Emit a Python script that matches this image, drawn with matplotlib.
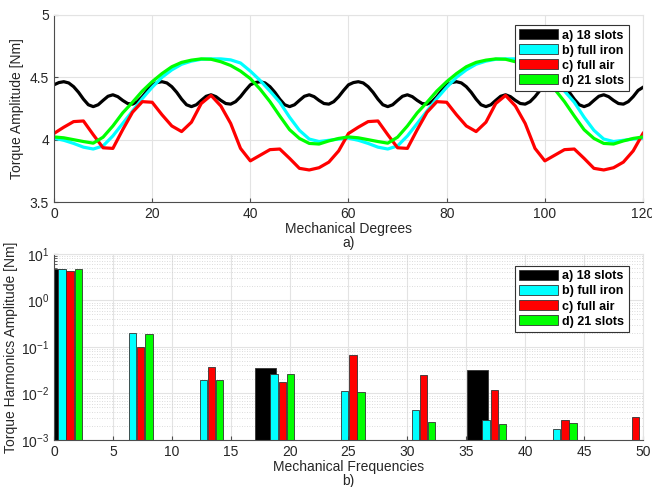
import numpy as np
import matplotlib
matplotlib.use("Agg")
import matplotlib.pyplot as plt
from matplotlib.patches import Patch
from matplotlib.ticker import FormatStrFormatter, LogLocator, NullFormatter

plt.rcParams['font.family'] = ['Liberation Sans', 'DejaVu Sans']
plt.rcParams['mathtext.fontset'] = 'custom'
plt.rcParams['mathtext.rm'] = 'Liberation Sans'

# torque vs rotor position; the 18-slot ripple is sampled every degree,
# the other machines every 2 mechanical degrees
degrees_fine = np.arange(0, 121, 1)
degrees = np.arange(0, 121, 2)

torque_18slots = [
  4.44, 4.458, 4.465, 4.455, 4.425, 4.38, 4.325, 4.28, 4.265, 4.28,
  4.315, 4.348, 4.36, 4.345, 4.315, 4.29, 4.285, 4.305, 4.345, 4.395,
  4.44, 4.458, 4.465, 4.455, 4.425, 4.38, 4.325, 4.28, 4.265, 4.28,
  4.315, 4.348, 4.36, 4.345, 4.315, 4.29, 4.285, 4.305, 4.345, 4.395,
  4.44, 4.458, 4.465, 4.455, 4.425, 4.38, 4.325, 4.28, 4.265, 4.28,
  4.315, 4.348, 4.36, 4.345, 4.315, 4.29, 4.285, 4.305, 4.345, 4.395,
  4.44, 4.458, 4.465, 4.455, 4.425, 4.38, 4.325, 4.28, 4.265, 4.28,
  4.315, 4.348, 4.36, 4.345, 4.315, 4.29, 4.285, 4.305, 4.345, 4.395,
  4.44, 4.458, 4.465, 4.455, 4.425, 4.38, 4.325, 4.28, 4.265, 4.28,
  4.315, 4.348, 4.36, 4.345, 4.315, 4.29, 4.285, 4.305, 4.345, 4.395,
  4.44, 4.458, 4.465, 4.455, 4.425, 4.38, 4.325, 4.28, 4.265, 4.28,
  4.315, 4.348, 4.36, 4.345, 4.315, 4.29, 4.285, 4.305, 4.345, 4.395,
  4.42]

torque_iron = [
  4.012, 3.995, 3.97, 3.94, 3.925, 3.95, 4.03, 4.13, 4.23, 4.33,
  4.42, 4.50, 4.56, 4.605, 4.63, 4.645, 4.648, 4.648, 4.64, 4.615,
  4.55, 4.475, 4.39, 4.30, 4.18, 4.075, 4.005, 3.985, 3.995, 4.005,
  4.012, 3.995, 3.97, 3.94, 3.925, 3.95, 4.03, 4.13, 4.23, 4.33,
  4.42, 4.50, 4.56, 4.605, 4.63, 4.645, 4.648, 4.648, 4.64, 4.615,
  4.55, 4.475, 4.39, 4.30, 4.18, 4.075, 4.005, 3.985, 3.995, 4.005,
  4.012]

torque_air = [
  4.05, 4.10, 4.145, 4.15, 4.04, 3.935, 3.93, 4.08, 4.22, 4.305,
  4.30, 4.20, 4.11, 4.065, 4.14, 4.29, 4.355, 4.27, 4.13, 3.93,
  3.83, 3.875, 3.92, 3.925, 3.85, 3.77, 3.757, 3.775, 3.82, 3.91,
  4.05, 4.10, 4.145, 4.15, 4.04, 3.935, 3.93, 4.08, 4.22, 4.305,
  4.30, 4.20, 4.11, 4.065, 4.14, 4.29, 4.355, 4.27, 4.13, 3.93,
  3.83, 3.875, 3.92, 3.925, 3.85, 3.77, 3.757, 3.775, 3.82, 3.91,
  4.05]

torque_21slots = [
  4.022, 4.015, 4.0, 3.985, 3.972, 4.02, 4.11, 4.215, 4.30, 4.39,
  4.465, 4.53, 4.585, 4.62, 4.638, 4.648, 4.645, 4.625, 4.595, 4.55,
  4.49, 4.405, 4.305, 4.19, 4.08, 4.01, 3.97, 3.965, 3.99, 4.01,
  4.022, 4.015, 4.0, 3.985, 3.972, 4.02, 4.11, 4.215, 4.30, 4.39,
  4.465, 4.53, 4.585, 4.62, 4.638, 4.648, 4.645, 4.625, 4.595, 4.55,
  4.49, 4.405, 4.305, 4.19, 4.08, 4.01, 3.97, 3.965, 3.99, 4.01,
  4.022]

# harmonic spectrum (0 = not present)
orders = np.array([0, 6, 12, 18, 24, 30, 36, 42, 48])
harm_18slots = [4.7, 0, 0, 0.0348, 0, 0, 0.032, 0, 0]
harm_iron = [4.7, 0.197, 0.0195, 0.0263, 0.011, 0.00435, 0.00265, 0.00162, 0]
harm_air = [4.4, 0.1016, 0.0378, 0.0177, 0.0673, 0.025, 0.0119, 0.00256, 0.00307]
harm_21slots = [4.65, 0.19, 0.0195, 0.0263, 0.0106, 0.00228, 0.00207, 0.00221, 0]

labels = ["a) 18 slots", "b) full iron", "c) full air", "d) 21 slots"]
colors = ["#000000", "#00ffff", "#ff0000", "#00ff00"]

txt = "#262626"
gridc = "#e3e3e3"

fig = plt.figure(figsize=(6.52, 4.87), dpi=100)
ax1 = fig.add_axes([0.0828, 0.5852, 0.9034, 0.384])
ax2 = fig.add_axes([0.0828, 0.0965, 0.9034, 0.382])

def style(ax):
  ax.set_axisbelow(True)
  ax.grid(True, which="major", color=gridc, lw=0.8)
  for s in ["top", "right"]:
    ax.spines[s].set_color(gridc)
  for s in ["left", "bottom"]:
    ax.spines[s].set_color("#4d4d4d")
    ax.spines[s].set_linewidth(0.8)
  ax.tick_params(direction="in", length=3, colors="#4d4d4d", labelcolor=txt,
                 labelsize=10, top=False, right=False)

def add_legend(ax, top):
  handles = [Patch(facecolor=c, edgecolor="#333333", lw=0.6) for c in colors]
  leg = ax.legend(handles, labels, loc="upper right", bbox_to_anchor=(0.976, top),
                  borderaxespad=0, fancybox=False, framealpha=1,
                  prop={"weight": "bold", "size": 9}, handlelength=3.1,
                  handleheight=0.85, handletextpad=0.35, labelspacing=0.22,
                  borderpad=0.35)
  leg.get_frame().set_edgecolor("#333333")
  leg.get_frame().set_linewidth(0.8)

# top: torque waveforms
ax1.plot(degrees_fine, torque_18slots, color=colors[0], lw=2.3, solid_joinstyle="round")
series = [torque_iron, torque_air, torque_21slots]
for vals, c in zip(series, colors[1:]):
  ax1.plot(degrees, vals, color=c, lw=2.3, solid_joinstyle="round")
ax1.set_xlim(0, 120)
ax1.set_ylim(3.5, 5)
ax1.set_xticks(range(0, 121, 20))
ax1.set_yticks([3.5, 4, 4.5, 5])
ax1.yaxis.set_major_formatter(FormatStrFormatter("%g"))
style(ax1)
ax1.set_xlabel("Mechanical Degrees\na)", fontsize=10, color=txt, labelpad=1, linespacing=0.95)
ax1.set_ylabel("Torque Amplitude [Nm]", fontsize=10, color=txt, labelpad=4)
add_legend(ax1, 0.947)

# bottom: harmonic amplitudes
def draw_bars(ax, vals, offset, width, color):
  vals = np.array(vals)
  keep = vals > 0
  ax.bar(orders[keep] + offset, vals[keep], width=width, bottom=1e-4,
         color=color, edgecolor="#333333", lw=0.6, align="center")

draw_bars(ax2, harm_18slots, -0.05, 1.8, colors[0])
draw_bars(ax2, harm_iron, 0.68, 0.62, colors[1])
draw_bars(ax2, harm_air, 1.37, 0.62, colors[2])
draw_bars(ax2, harm_21slots, 2.07, 0.62, colors[3])
ax2.set_yscale("log")
ax2.set_xlim(0, 50)
ax2.set_ylim(1e-3, 10)
ax2.set_xticks(range(0, 51, 5))
ax2.yaxis.set_major_locator(LogLocator(base=10, numticks=10))
ax2.yaxis.set_minor_locator(LogLocator(base=10, subs=np.arange(2, 10), numticks=10))
ax2.yaxis.set_minor_formatter(NullFormatter())
style(ax2)
ax2.grid(True, which="minor", axis="y", color="#d0d0d0", lw=0.6, ls=(0, (1, 2)))
ax2.tick_params(which="minor", direction="in", length=2, colors="#4d4d4d")
ax2.set_xlabel("Mechanical Frequencies\nb)", fontsize=10, color=txt, labelpad=1, linespacing=0.95)
ax2.set_ylabel("Torque Harmonics Amplitude [Nm]", fontsize=10, color=txt, labelpad=2)
add_legend(ax2, 0.937)

fig.savefig("out.png", dpi=100)
